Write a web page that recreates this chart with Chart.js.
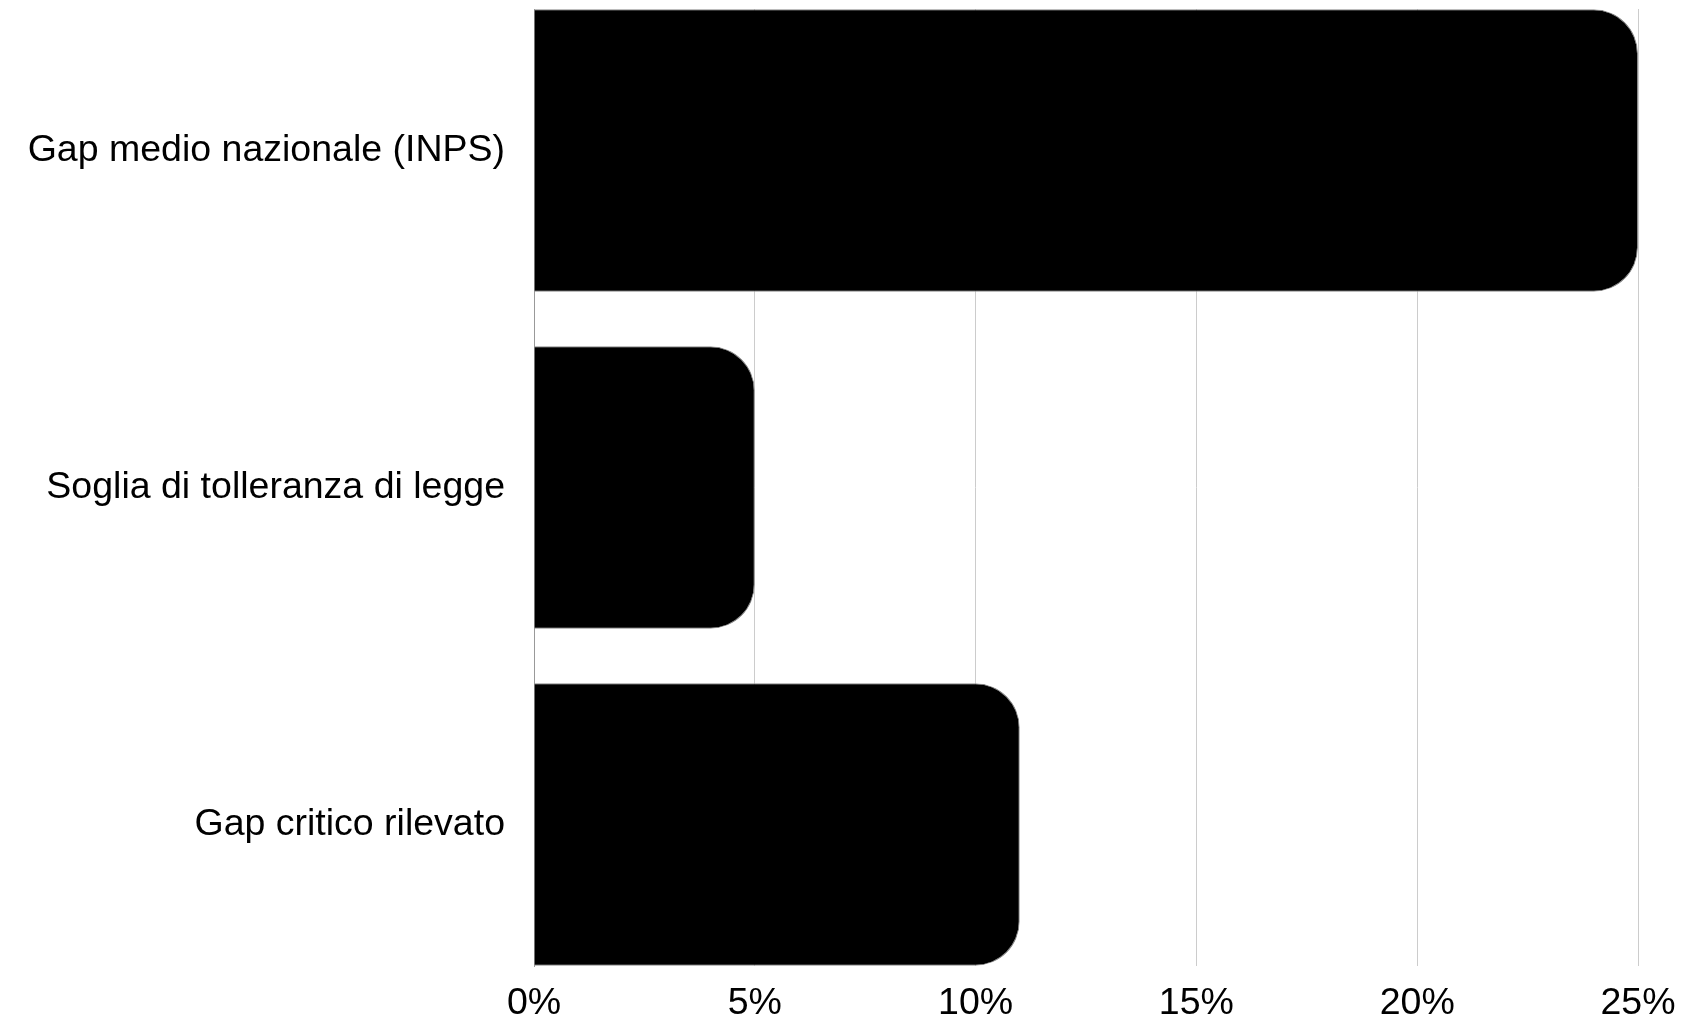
<!DOCTYPE html>
<html>
<head>
<meta charset="utf-8">
<script src="https://cdn.jsdelivr.net/npm/chart.js@4"></script>
<style>
  html, body { margin: 0; padding: 0; background: #fff; }
  #wrap { width: 1684px; height: 1019px; position: relative; }
</style>
</head>
<body>
<div id="wrap"><canvas id="c"></canvas></div>
<script>
const categories = ['Gap medio nazionale (INPS)', 'Soglia di tolleranza di legge', 'Gap critico rilevato'];
const values = [25, 5, 11];
const xTickValues = [0, 5, 10, 15, 20, 25];

const points = values.map((v, i) => ({ x: v, y: i }));

new Chart(document.getElementById('c'), {
  type: 'bar',
  data: {
    datasets: [{
      data: points,
      backgroundColor: '#000000',
      borderColor: '#8a8a8a',
      borderWidth: 1,
      borderRadius: 44,
      borderSkipped: 'start',
      categoryPercentage: 0.838,
      barPercentage: 1
    }]
  },
  options: {
    indexAxis: 'y',
    responsive: true,
    maintainAspectRatio: false,
    animation: false,
    layout: { padding: { top: 9, right: 46, left: 0, bottom: 0 } },
    plugins: { legend: { display: false }, tooltip: { enabled: false } },
    scales: {
      x: {
        type: 'linear',
        min: 0,
        max: 25,
        afterBuildTicks: s => { s.ticks = xTickValues.map(v => ({ value: v })); },
        afterFit: s => { s.paddingLeft = 0; s.paddingRight = 0; s.height = 53; },
        grid: { color: '#cccccc', drawTicks: false, lineWidth: 1 },
        border: { display: false },
        ticks: {
          padding: 15,
          color: '#000',
          font: { family: 'Liberation Sans', size: 37.5 },
          callback: v => v + '%',
          maxRotation: 0
        }
      },
      y: {
        type: 'linear',
        min: -0.42,
        max: 2.42,
        reverse: true,
        offset: false,
        afterBuildTicks: s => { s.ticks = categories.map((_, i) => ({ value: i })); },
        afterFit: s => { s.paddingTop = 0; s.paddingBottom = 0; s.width = 534; },
        grid: { display: true, offset: false, drawOnChartArea: false, drawTicks: false, color: 'rgba(0,0,0,0)' },
        border: { display: true, color: '#999999', width: 1 },
        ticks: {
          padding: 29,
          autoSkip: false,
          color: '#000',
          font: { family: 'Liberation Sans', size: 37.5 },
          callback: v => categories[v] ?? ''
        }
      }
    }
  }
});
</script>
</body>
</html>
